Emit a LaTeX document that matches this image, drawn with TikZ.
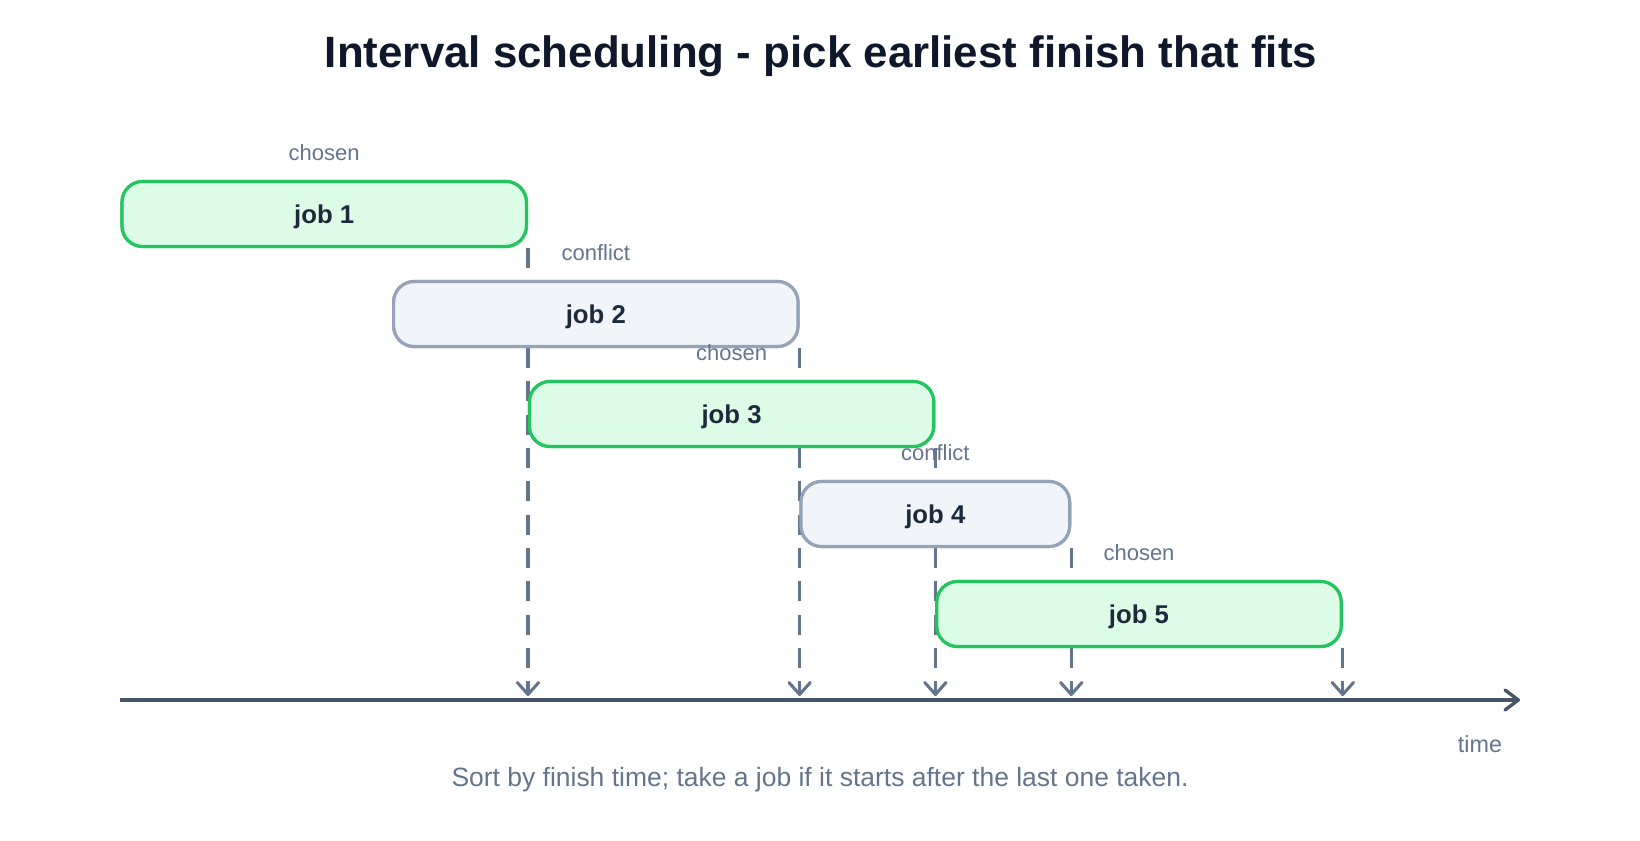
\documentclass[tikz,border=0pt]{standalone}
\usepackage{fontspec}
\setmainfont{Liberation Sans}
\usetikzlibrary{arrows.meta}
\definecolor{okline}{HTML}{22C55E}
\definecolor{okfill}{HTML}{DCFCE7}
\definecolor{badline}{HTML}{94A3B8}
\definecolor{badfill}{HTML}{F1F5F9}
\definecolor{muted}{HTML}{64748B}
\definecolor{axiscol}{HTML}{475569}
\definecolor{jobtext}{HTML}{1E293B}
\definecolor{titlecol}{HTML}{0F172A}
\begin{document}
\begin{tikzpicture}[x=0.75pt,y=-0.75pt,
  jobbox/.style={rounded corners=15.5pt, line width=2.4pt, minimum height=48.75pt,
    inner sep=0pt, text height=17pt, text depth=2.5pt, text=jobtext,
    font=\bfseries\fontsize{19.3}{22}\selectfont},
  chosenbox/.style={jobbox, draw=okline, fill=okfill},
  conflictbox/.style={jobbox, draw=badline, fill=badfill},
  tag/.style={anchor=base, text=muted, font=\fontsize{16.5}{19}\selectfont},
  finishline/.style={draw=muted, line width=2.3pt, dash pattern=on 15pt off 10pt,
    -{Straight Barb[length=9pt,width=16pt,round]}},
  axisline/.style={draw=axiscol, line width=2.5pt, -{Straight Barb[length=10pt,width=15pt,round]}}
]
\useasboundingbox (0,0) rectangle (1640,840);

\node[anchor=base, text=titlecol, font=\bfseries\fontsize{32.9}{38}\selectfont] (title) at (821,67)
  {Interval scheduling - pick earliest finish that fits};

\coordinate (ax0) at (120,700);
\coordinate (ax1) at (1520,700);

% job nodes (placed first so finish lines can refer to them; boxes redrawn on top)
\path (324.2,214) node[chosenbox, minimum width=303.3pt] (j1) {job 1};
\path (595.8,314) node[conflictbox, minimum width=303.3pt] (j2) {job 2};
\path (731.6,414) node[chosenbox, minimum width=303.3pt] (j3) {job 3};
\path (935.3,514) node[conflictbox, minimum width=201.5pt] (j4) {job 4};
\path (1139,614) node[chosenbox, minimum width=303.3pt] (j5) {job 5};

% finish-time lines
\foreach \j in {j1,j2,j3,j4,j5}{
  \draw[finishline] (\j.south east) -- ([yshift=3pt]\j.south east |- ax0);
}

% boxes again, above the finish lines
\path (324.2,214) node[chosenbox, minimum width=303.3pt] (k1) {job 1};
\path (595.8,314) node[conflictbox, minimum width=303.3pt] (k2) {job 2};
\path (731.6,414) node[chosenbox, minimum width=303.3pt] (k3) {job 3};
\path (935.3,514) node[conflictbox, minimum width=201.5pt] (k4) {job 4};
\path (1139,614) node[chosenbox, minimum width=303.3pt] (k5) {job 5};

\node[tag] (t1) at ([yshift=14.7pt]j1.north) {chosen};
\node[tag] (t2) at ([yshift=14.7pt]j2.north) {conflict};
\node[tag] (t3) at ([yshift=14.7pt]j3.north) {chosen};
\node[tag] (t4) at ([yshift=14.7pt]j4.north) {conflict};
\node[tag] (t5) at ([yshift=14.7pt]j5.north) {chosen};

\draw[axisline] (ax0) -- (ax1);
\node[tag, font=\fontsize{17.5}{20}\selectfont] (time) at (1480,752) {time};

\node[anchor=base, text=muted, font=\fontsize{19.85}{23}\selectfont] (caption) at (820,786)
  {Sort by finish time; take a job if it starts after the last one taken.};
\end{tikzpicture}
\end{document}
